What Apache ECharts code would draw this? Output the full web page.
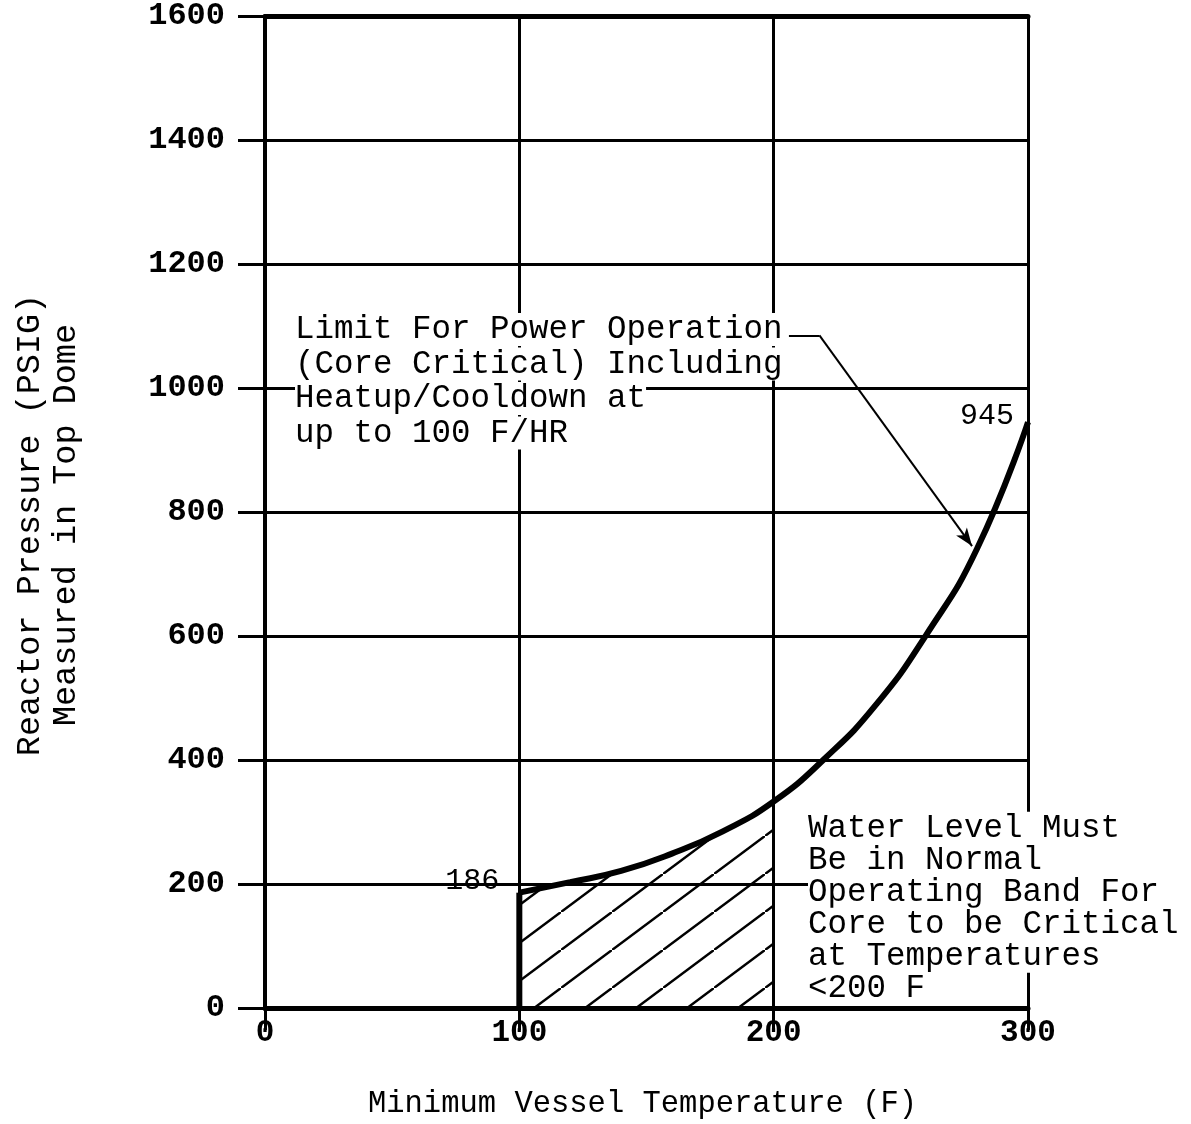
<!DOCTYPE html>
<html>
<head>
<meta charset="utf-8">
<script src="https://cdn.jsdelivr.net/npm/echarts@6/dist/echarts.min.js"></script>
<style>
html,body{margin:0;padding:0;background:#fff;}
#chart{width:1191px;height:1124px;}
</style>
</head>
<body>
<div id="chart"></div>
<script>
// ---- data ----
const limitTemp = [100, 120, 140, 160, 180, 200, 220, 240, 260, 280, 300];
const limitPressure = [186, 203, 221, 249, 285, 333, 402, 488, 602, 741, 945];
const minTempLine = [[100, 0], [100, 186]];
const hatchMaxTemp = 200;
const xTitle = 'Minimum Vessel Temperature (F)';
const yTitle = 'Reactor Pressure (PSIG)\nMeasured in Top Dome';
const noteLimit = ['Limit For Power Operation', '(Core Critical) Including', 'Heatup/Cooldown at', 'up to 100 F/HR'];
const noteWater = ['Water Level Must', 'Be in Normal', 'Operating Band For', 'Core to be Critical', 'at Temperatures', '<200 F'];
const noteLimitAt = [11.8, 1011];
const noteWaterAt = [213.5, 161];
const calloutPts = [[206, 1085], [218, 1085], [278, 745]];

const FONT = '"Liberation Mono", "DejaVu Sans Mono", monospace';

// hatch pattern
function makeHatch() {
  const W = 51, H = 38;
  const c = document.createElement('canvas');
  c.width = W; c.height = H;
  const g = c.getContext('2d');
  g.strokeStyle = '#000';
  g.lineWidth = 2.5;
  g.beginPath();
  g.moveTo(-W, 2 * H); g.lineTo(2 * W, -H);
  g.stroke();
  return c;
}

const curveData = limitTemp.map((t, i) => [t, limitPressure[i]]);
const hatchData = curveData.filter(d => d[0] <= hatchMaxTemp);

function rich(lines) {
  return lines.map(l => '{a|' + l + '}').join('\n');
}

const chart = echarts.init(document.getElementById('chart'), null, {renderer: 'canvas'});
const option = {
  backgroundColor: '#fff',
  animation: false,
  grid: {left: 265, right: 163, top: 16, bottom: 116, containLabel: false, outerBoundsMode: 'none'},
  xAxis: [{
    type: 'value', min: 0, max: 300, interval: 100,
    name: xTitle, nameLocation: 'middle', nameGap: 80,
    nameTextStyle: {fontFamily: FONT, fontSize: 30.5, color: '#000', padding: [0, 8, 0, 0]},
    axisLine: {show: true, onZero: false, lineStyle: {color: '#000', width: 5}},
    axisTick: {show: true, length: 22, lineStyle: {color: '#000', width: 3}},
    axisLabel: {margin: 10, fontFamily: FONT, fontSize: 31, fontWeight: 'bold', color: '#000',
      formatter: v => String(v)},
    splitLine: {show: true, lineStyle: {color: '#000', width: 3}}
  }, {
    type: 'value', min: 0, max: 300, position: 'top',
    axisLine: {show: true, onZero: false, lineStyle: {color: '#000', width: 5}},
    axisTick: {show: false}, axisLabel: {show: false}, splitLine: {show: false}
  }],
  yAxis: {
    type: 'value', min: 0, max: 1600, interval: 200,
    name: yTitle, nameLocation: 'middle', nameGap: 181, nameRotate: 90,
    nameTextStyle: {fontFamily: FONT, fontSize: 33.5, color: '#000', lineHeight: 36, padding: [0, 26, 0, 0]},
    axisLine: {show: true, onZero: false, lineStyle: {color: '#000', width: 4}},
    axisTick: {show: true, length: 27, lineStyle: {color: '#000', width: 3}},
    axisLabel: {margin: 40, fontFamily: FONT, fontSize: 32, fontWeight: 'bold', color: '#000',
      formatter: v => String(v)},
    splitLine: {show: true, lineStyle: {color: '#000', width: 3}}
  },
  series: [
    {
      type: 'line', name: 'hatch', data: hatchData, smooth: 0.5,
      symbol: 'none', lineStyle: {width: 0, opacity: 0},
      areaStyle: {color: {image: makeHatch(), repeat: 'repeat'}, opacity: 1},
      z: 3
    },
    {
      type: 'line', name: 'notes', data: [], symbol: 'none', z: 4,
      markPoint: {
        symbol: 'circle', symbolSize: 0, silent: true,
        label: {show: true, position: 'right', distance: 0, color: '#000',
          fontFamily: FONT, fontSize: 32.5},
        data: [
          {coord: noteLimitAt, label: {formatter: rich(noteLimit),
            rich: {a: {fontFamily: FONT, fontSize: 32.5, color: '#000', lineHeight: 34.5, backgroundColor: '#fff'}}}},
          {coord: noteWaterAt, label: {formatter: rich(noteWater),
            rich: {a: {fontFamily: FONT, fontSize: 32.5, color: '#000', lineHeight: 32, backgroundColor: '#fff'}}}}
        ]
      }
    },
    {
      type: 'line', name: 'min temp', data: minTempLine, symbol: 'none',
      lineStyle: {color: '#000', width: 6}, z: 5
    },
    {
      type: 'line', name: 'limit', data: curveData, smooth: 0.5,
      symbol: 'none', showSymbol: false,
      lineStyle: {color: '#000', width: 6}, z: 6,
      markPoint: {
        symbol: 'circle', symbolSize: 0, silent: true,
        label: {show: true, color: '#000', fontFamily: FONT, fontSize: 30},
        data: [
          {coord: curveData[0], value: limitPressure[0], label: {position: 'left', distance: 20, offset: [0, -12], formatter: '{c}'}},
          {coord: curveData[curveData.length - 1], value: limitPressure[limitPressure.length - 1], label: {position: 'left', distance: 14, offset: [0, -6], formatter: '{c}'}}
        ]
      },
      markLine: {
        silent: true, symbol: ['none', 'none'], label: {show: false},
        lineStyle: {color: '#000', width: 2, type: 'solid'},
        data: [
          [{coord: calloutPts[0]}, {coord: calloutPts[1]}],
          [{coord: calloutPts[1], symbol: 'none'}, {coord: calloutPts[2], symbol: 'arrow', symbolSize: [10, 18]}]
        ]
      }
    }
  ]
};
chart.setOption(option);
</script>
</body>
</html>
